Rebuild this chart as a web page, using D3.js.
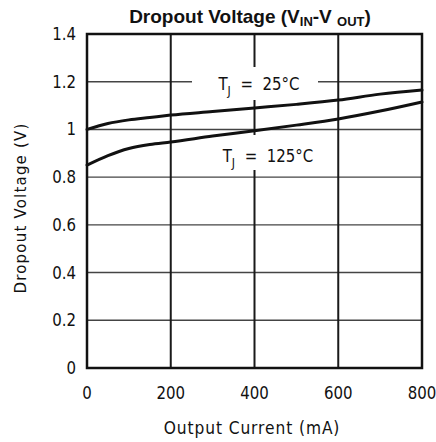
<!DOCTYPE html>
<html>
<head>
<meta charset="utf-8">
<script src="https://cdn.jsdelivr.net/npm/d3@7"></script>
<style>
  html, body { margin: 0; padding: 0; background: #fff; }
  svg { display: block; }
  text { fill: #111; }
</style>
</head>
<body>
<svg id="chart" width="436" height="442"></svg>
<script>
// ---- data ----
const xTicks = [0, 200, 400, 600, 800];
const yTicks = [0, 0.2, 0.4, 0.6, 0.8, 1, 1.2, 1.4];
const yTickLabels = ["0", "0.2", "0.4", "0.6", "0.8", "1", "1.2", "1.4"];
const current = [0, 50, 100, 150, 200, 300, 400, 500, 600, 700, 800];
const vdrop25 = [1.0, 1.025, 1.04, 1.05, 1.06, 1.075, 1.09, 1.105, 1.123, 1.148, 1.165];
const vdrop125 = [0.85, 0.89, 0.92, 0.937, 0.947, 0.972, 0.994, 1.018, 1.044, 1.077, 1.115];
const title = "Dropout Voltage";
const xLabel = "Output Current (mA)";
const yLabel = "Dropout Voltage (V)";

// ---- layout ----
const svg = d3.select("#chart");
const m = { left: 87, right: 422, top: 34, bottom: 368 };
const x = d3.scaleLinear().domain([0, 800]).range([m.left, m.right]);
const y = d3.scaleLinear().domain([0, 1.4]).range([m.bottom, m.top]);

const g = svg.append("g");

function stretch(sel, cy, k) {
  sel.attr("transform", `translate(0,${cy}) scale(1,${k}) translate(0,${-cy})`);
}

// horizontal grid
g.selectAll(".hg").data(yTicks.filter(v => v > 0 && v < 1.4)).enter()
  .append("line")
  .attr("x1", m.left).attr("x2", m.right)
  .attr("y1", d => y(d)).attr("y2", d => y(d))
  .attr("stroke", "#444").attr("stroke-width", 1.4);

// vertical grid
g.selectAll(".vg").data(xTicks.filter(v => v > 0 && v < 800)).enter()
  .append("line")
  .attr("y1", m.top).attr("y2", m.bottom)
  .attr("x1", d => x(d)).attr("x2", d => x(d))
  .attr("stroke", "#1a1a1a").attr("stroke-width", 2);

// frame
g.append("rect")
  .attr("x", m.left).attr("y", m.top)
  .attr("width", m.right - m.left).attr("height", m.bottom - m.top)
  .attr("fill", "none").attr("stroke", "#111").attr("stroke-width", 2.5);

// label boxes (white background breaking grid lines)
g.append("rect").attr("x", 192).attr("y", 67)
  .attr("width", 126).attr("height", 33).attr("fill", "#fff");
g.append("rect").attr("x", 205).attr("y", 135)
  .attr("width", 125).attr("height", 35).attr("fill", "#fff");

// curves
const line = d3.line().x((d, i) => x(current[i])).y(d => y(d)).curve(d3.curveMonotoneX);
[vdrop25, vdrop125].forEach(s => {
  g.append("path").attr("d", line(s))
    .attr("fill", "none").attr("stroke", "#111").attr("stroke-width", 3)
    .attr("stroke-linejoin", "round").attr("stroke-linecap", "round");
});

// curve labels
function tjLabel(cx, cy, temp) {
  const t = g.append("text").attr("x", cx).attr("y", cy)
    .attr("text-anchor", "middle")
    .attr("font-family", "DejaVu Sans").attr("font-size", 15);
  stretch(t, cy, 1.15);
  t.append("tspan").text("T");
  t.append("tspan").attr("font-size", 11).attr("dy", 4).text("J");
  t.append("tspan").attr("dy", -4).text("\u00a0\u00a0=\u00a0\u00a0" + temp + "°C");
}
tjLabel(259, 90, "25");
tjLabel(268, 162, "125");

// y tick labels
g.selectAll(".yl").data(yTicks).enter().append("text")
  .attr("x", 76).attr("y", d => y(d) + 6)
  .attr("text-anchor", "end")
  .attr("font-family", "DejaVu Sans").attr("font-size", 15)
  .each(function (d) { stretch(d3.select(this), y(d) + 6, 1.15); })
  .text((d, i) => yTickLabels[i]);

// x tick labels
g.selectAll(".xl").data(xTicks).enter().append("text")
  .attr("x", d => x(d)).attr("y", 399)
  .attr("text-anchor", "middle")
  .attr("font-family", "DejaVu Sans").attr("font-size", 15)
  .each(function () { stretch(d3.select(this), 399, 1.15); })
  .text(d => d);

// axis titles
const xl = g.append("text").attr("x", 252).attr("y", 434)
  .attr("text-anchor", "middle")
  .attr("font-family", "DejaVu Sans").attr("font-size", 15.5)
  .attr("letter-spacing", 0.9)
  .text(xLabel);
stretch(xl, 434, 1.12);
g.append("text")
  .attr("transform", "translate(26,208) rotate(-90) scale(1,1.1)")
  .attr("text-anchor", "middle")
  .attr("font-family", "DejaVu Sans").attr("font-size", 15)
  .attr("letter-spacing", 1.2)
  .text(yLabel);

// title
const tt = svg.append("text").attr("x", 250).attr("y", 23)
  .attr("text-anchor", "middle")
  .attr("font-family", "Liberation Sans, Arial").attr("font-weight", "bold").attr("font-size", 19);
tt.append("tspan").text(title + " (V");
tt.append("tspan").attr("font-size", 13).attr("dy", 3).text("IN");
tt.append("tspan").attr("dy", -3).text("-V\u00a0");
tt.append("tspan").attr("font-size", 13).attr("dy", 3).text("OUT");
tt.append("tspan").attr("dy", -3).text(")");
</script>
</body>
</html>
